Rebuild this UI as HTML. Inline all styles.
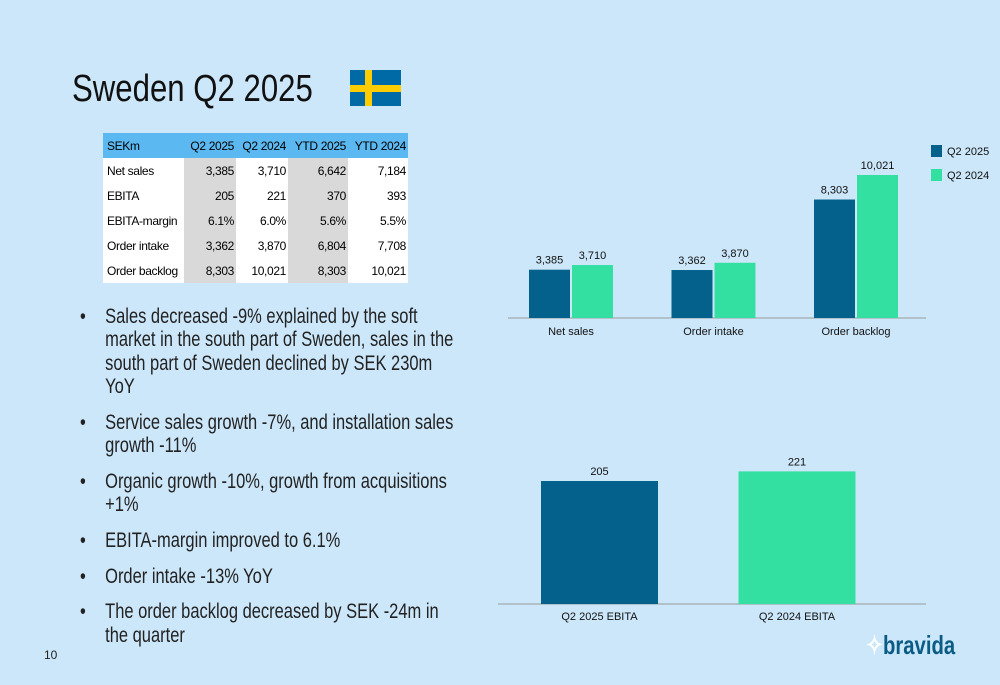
<!DOCTYPE html>
<html><head><meta charset="utf-8"><style>
body{margin:0;width:1000px;height:685px;background:#cce7fa;position:relative;overflow:hidden;font-family:"Liberation Sans",sans-serif;}
.abs{position:absolute;}
#title{left:72px;top:68px;font-size:38px;color:#111;white-space:nowrap;transform:scaleX(0.82);transform-origin:left top;}
table{position:absolute;left:103px;top:133px;border-collapse:collapse;font-size:12px;letter-spacing:-0.35px;color:#000;table-layout:fixed;width:305px;}
td{height:25px;padding:0 2px;text-align:right;white-space:nowrap;overflow:hidden;}
td:first-child{text-align:left;padding-left:4px;}
tr.h td{background:#5cb8f0;}
tr:not(.h) td{background:#fff;}
tr:not(.h) td.g{background:#d9d9d9;}
#bullets{left:80px;top:305px;font-size:21px;color:#222;line-height:23.3px;transform:scaleX(0.785);transform-origin:left top;white-space:nowrap;}
.b{position:relative;padding-left:32px;margin-bottom:12.5px;}
.b:before{content:"•";position:absolute;left:0;}
</style></head><body>
<div id="title" class="abs">Sweden Q2 2025</div>
<svg class="abs" style="left:350px;top:70px" width="51" height="36"><rect width="51" height="36" fill="#006aa7"/><rect x="15" width="7" height="36" fill="#fecc00"/><rect y="15" width="51" height="7" fill="#fecc00"/></svg>
<table>
<colgroup><col style="width:81px"><col style="width:52px"><col style="width:52px"><col style="width:60px"><col style="width:60px"></colgroup>
<tr class="h"><td>SEKm</td><td>Q2 2025</td><td>Q2 2024</td><td>YTD 2025</td><td>YTD 2024</td></tr>
<tr><td>Net sales</td><td class="g">3,385</td><td>3,710</td><td class="g">6,642</td><td>7,184</td></tr>
<tr><td>EBITA</td><td class="g">205</td><td>221</td><td class="g">370</td><td>393</td></tr>
<tr><td>EBITA-margin</td><td class="g">6.1%</td><td>6.0%</td><td class="g">5.6%</td><td>5.5%</td></tr>
<tr><td>Order intake</td><td class="g">3,362</td><td>3,870</td><td class="g">6,804</td><td>7,708</td></tr>
<tr><td>Order backlog</td><td class="g">8,303</td><td>10,021</td><td class="g">8,303</td><td>10,021</td></tr>
</table>
<div id="bullets" class="abs">
<div class="b">Sales decreased -9% explained by the soft<br>market in the south part of Sweden, sales in the<br>south part of Sweden declined by SEK 230m<br>YoY</div>
<div class="b">Service sales growth -7%, and installation sales<br>growth -11%</div>
<div class="b">Organic growth -10%, growth from acquisitions<br>+1%</div>
<div class="b">EBITA-margin improved to 6.1%</div>
<div class="b">Order intake -13% YoY</div>
<div class="b">The order backlog decreased by SEK -24m in<br>the quarter</div>
</div>
<div class="abs" style="left:44px;top:648px;font-size:12px;color:#222">10</div>
<svg class="abs" style="left:0;top:0" width="1000" height="685" id="charts"></svg>
<div class="abs" style="left:866px;top:630px;color:#0b5c85;font-size:26px;font-weight:bold;transform:scaleX(0.78);transform-origin:left top;white-space:nowrap"><span style="color:#fff">✧</span>bravida</div>
<script>
const cats1=["Net sales","Order intake","Order backlog"];
const q2025=[3385,3362,8303];
const q2024=[3710,3870,10021];
const cats2=["Q2 2025 EBITA","Q2 2024 EBITA"];
const ebita=[205,221];
const DARK="#04618c",GREEN="#33e0a1";
const svg=document.getElementById('charts');
const NS="http://www.w3.org/2000/svg";
function el(t,a,txt){const e=document.createElementNS(NS,t);for(const k in a)e.setAttribute(k,a[k]);if(txt!==undefined)e.textContent=txt;svg.appendChild(e);return e;}
function fmt(v){return v.toLocaleString('en-US');}
const base1=318,y1=v=>base1-v*0.01427,centers1=i=>571+i*142.5;
let ax=el('line',{x1:508,x2:926,y1:base1,y2:base1,stroke:'#999','stroke-width':1});

cats1.forEach((c,i)=>{
 const cx=centers1(i);
 [[q2025[i],cx-42,DARK,'q2-2025'],[q2024[i],cx+1,GREEN,'q2-2024']].forEach(([v,x,col,n])=>{
  const r=el('rect',{x:x,y:y1(v),width:41,height:base1-y1(v),fill:col});
  
  const t=el('text',{x:x+20.5,y:y1(v)-6,'text-anchor':'middle','font-size':11,fill:'#111'},fmt(v));
  
 });
 const l=el('text',{x:cx,y:335,'text-anchor':'middle','font-size':11,fill:'#111'},c);
 
});
[['Q2 2025',DARK,145],['Q2 2024',GREEN,169]].forEach(([n,col,y])=>{
 const r=el('rect',{x:931,y:y,width:11,height:12,fill:col});
 
 const t=el('text',{x:947,y:y+10,'font-size':11,fill:'#111'},n);
 
});
const base2=604,y2=v=>base2-v*0.6,cols2=[DARK,GREEN],x2=i=>541+i*197.5;
let ax2=el('line',{x1:498,x2:926,y1:base2,y2:base2,stroke:'#999','stroke-width':1});

cats2.forEach((c,i)=>{
 const v=ebita[i],x=x2(i);
 const r=el('rect',{x:x,y:y2(v),width:117,height:base2-y2(v),fill:cols2[i]});
 
 const t=el('text',{x:x+58.5,y:y2(v)-6,'text-anchor':'middle','font-size':11,fill:'#111'},fmt(v));
 
 const l=el('text',{x:x+58.5,y:620,'text-anchor':'middle','font-size':11,fill:'#111'},c);
 
});
</script>
</body></html>
